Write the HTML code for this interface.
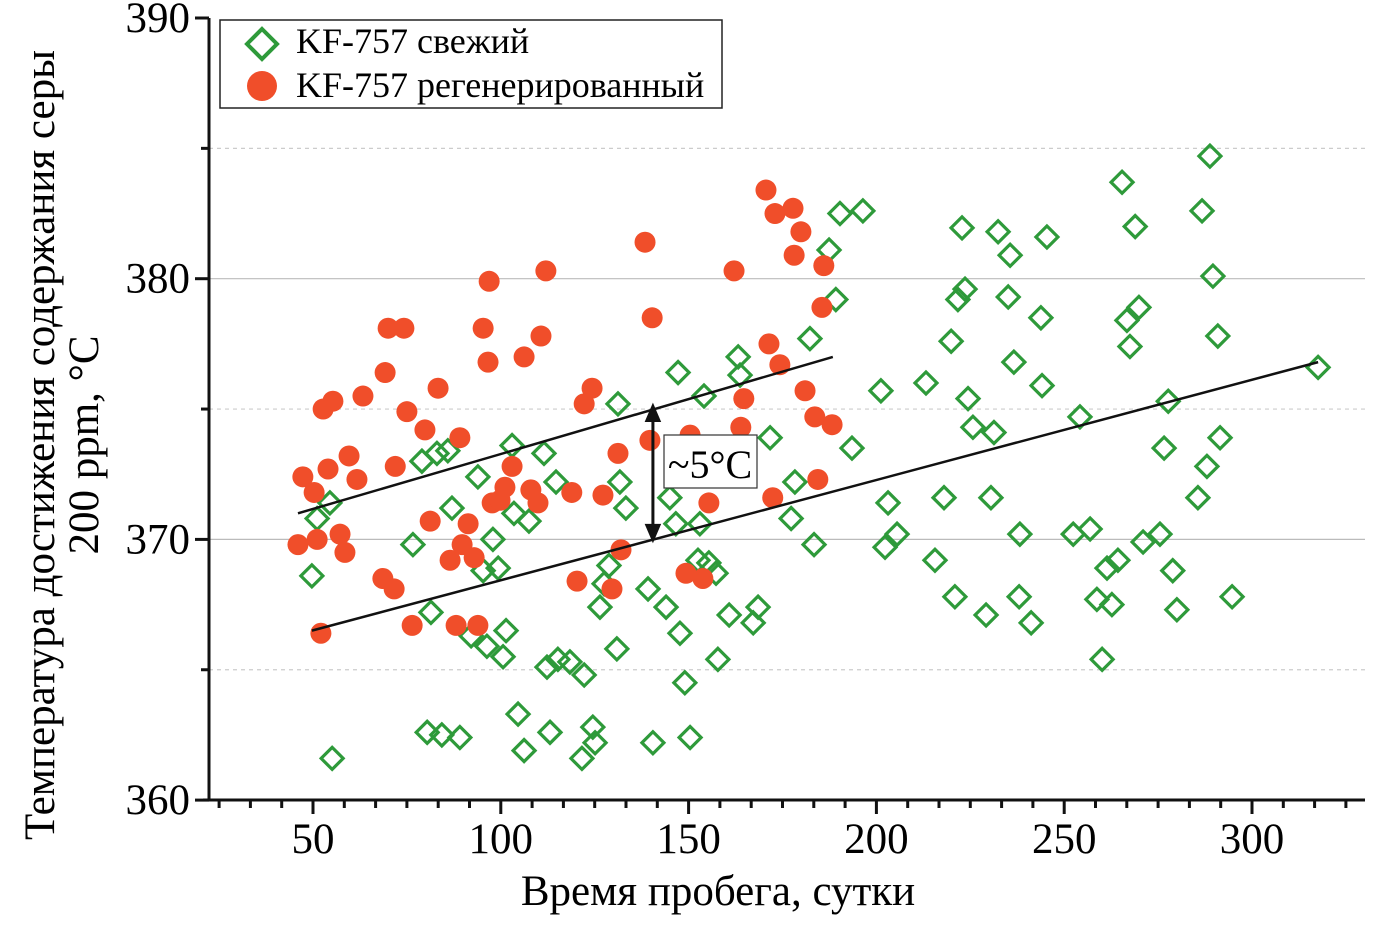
<!DOCTYPE html>
<html><head><meta charset="utf-8"><style>
html,body{margin:0;padding:0;background:#fff;}
svg{display:block;font-family:"Liberation Serif",serif;}
</style></head><body>
<svg id="chart" width="1399" height="930" viewBox="0 0 1399 930">
<g id="grid"></g>
<g id="marks"></g>
<g id="axes"></g>
<text x="718" y="905" font-size="43" text-anchor="middle">Время пробега, сутки</text>
<text transform="translate(54,445) rotate(-90)" font-size="43" text-anchor="middle">Температура достижения содержания серы</text>
<text transform="translate(98,445) rotate(-90)" font-size="43" text-anchor="middle">200 ppm, °C</text>
<g>
<rect x="220" y="20" width="502" height="88" fill="#fff" stroke="#222" stroke-width="1.5"/>
<g>
<path d="M262 29 L277 44 L262 59 L247 44 Z" fill="none" stroke="#2e9a3a" stroke-width="4"/>
<text x="296" y="53" font-size="36">KF-757 свежий</text></g>
<g>
<circle cx="262" cy="86" r="15" fill="#f04e2a"/>
<text x="296" y="97" font-size="36">KF-757 регенерированный</text></g>
</g>
</svg>
<script>
const xTicks=[50,100,150,200,250,300];
const yTicks=[360,370,380,390];
const freshX=[49.7,51.1,54.5,55.1,76.6,79.0,81.4,83.0,85.9,80.4,84.3,89.1,87.0,92.1,93.9,95.3,96.3,97.9,99.3,100.6,101.4,103.0,103.5,107.5,104.6,106.2,111.5,112.3,113.1,114.7,115.2,118.4,122.2,121.6,124.5,125.1,126.4,127.5,128.8,130.9,131.7,133.3,131.2,139.2,140.5,144.0,145.0,147.2,147.7,149.0,150.4,146.6,153.0,152.5,154.1,155.4,157.3,157.8,160.8,163.2,163.7,167.2,168.5,171.7,177.3,178.3,182.3,183.4,187.4,189.2,190.3,193.5,196.4,201.2,203.1,202.3,205.5,213.2,215.6,218.0,219.9,220.9,221.7,222.8,223.6,224.4,225.7,229.2,230.5,231.3,232.4,235.1,235.6,236.6,238.2,238.0,241.2,243.8,244.1,245.4,252.4,254.2,256.9,258.7,260.1,261.4,262.7,264.3,265.4,266.7,267.5,268.9,269.9,271.0,275.5,276.6,277.7,278.9,280.0,285.6,286.7,288.0,288.8,289.6,290.9,291.5,294.7,317.6];
const freshY=[368.6,370.8,371.4,361.6,369.8,373.0,367.2,373.3,373.4,362.6,362.5,362.4,371.2,366.3,372.4,368.8,365.9,370.0,368.9,365.5,366.5,373.6,371.0,370.7,363.3,361.9,373.3,365.1,362.6,372.2,365.4,365.3,364.8,361.6,362.8,362.2,367.4,368.3,369.0,365.8,372.2,371.2,375.2,368.1,362.2,367.4,371.6,376.4,366.4,364.5,362.4,370.6,370.6,369.2,375.5,369.1,368.7,365.4,367.1,377.0,376.3,366.8,367.4,373.9,370.8,372.2,377.7,369.8,381.1,379.2,382.5,373.5,382.6,375.7,371.4,369.7,370.2,376.0,369.2,371.6,377.6,367.8,379.2,381.95,379.6,375.4,374.3,367.1,371.6,374.1,381.8,379.3,380.9,376.8,370.2,367.8,366.8,378.5,375.9,381.6,370.2,374.7,370.4,367.7,365.4,368.9,367.5,369.2,383.7,378.4,377.4,382.0,378.9,369.9,370.2,373.5,375.3,368.8,367.3,371.6,382.6,372.8,384.7,380.1,377.8,373.9,367.8,376.6];
const regenX=[46.0,47.3,50.3,51.1,52.1,52.7,54.0,55.3,57.2,58.5,59.6,61.7,63.3,68.6,69.2,70.0,71.6,71.9,74.2,75.0,76.4,79.8,81.2,83.3,86.5,88.1,89.1,89.7,91.3,92.9,93.9,95.3,96.6,96.9,97.7,99.8,101.1,103.0,106.2,108.0,109.9,110.7,112.0,118.9,120.3,122.2,124.3,127.2,129.6,131.2,132.0,138.4,139.7,140.3,149.3,150.4,153.8,155.4,162.1,163.9,164.7,170.6,172.4,173.0,171.4,174.3,177.8,178.1,179.9,181.0,183.6,184.4,185.5,186.0,188.2];
const regenY=[369.8,372.4,371.8,370.0,366.4,375.0,372.7,375.3,370.2,369.5,373.2,372.3,375.5,368.5,376.4,378.1,368.1,372.8,378.1,374.9,366.7,374.2,370.7,375.8,369.2,366.7,373.9,369.8,370.6,369.3,366.7,378.1,376.8,379.9,371.4,371.5,372.0,372.8,377.0,371.9,371.4,377.8,380.3,371.8,368.4,375.2,375.8,371.7,368.1,373.3,369.6,381.4,373.8,378.5,368.7,374.0,368.5,371.4,380.3,374.3,375.4,383.4,371.6,382.5,377.5,376.7,382.7,380.9,381.8,375.7,374.7,372.3,378.9,380.5,374.4];
const upperLine=[[46.0,371.0],[188.4,377.0]];
const lowerLine=[[49.7,366.5],[317.6,376.8]];
const gapArrow=[140.5,375.1,370.0];

const X=v=>313+(v-50)*3.756;
const Y=v=>18+(390-v)*26.07;
const NS='http://www.w3.org/2000/svg';
function mk(parent,tag,attrs){const e=document.createElementNS(NS,tag);for(const k in attrs)e.setAttribute(k,attrs[k]);document.getElementById(parent).appendChild(e);return e;}

[385,375,365].forEach(v=>{const l=mk('grid','line',{x1:209,x2:1365,y1:Y(v),y2:Y(v),stroke:'#ccc','stroke-width':1.2,'stroke-dasharray':'4 4'});

});
[380,370].forEach(v=>{const l=mk('grid','line',{x1:209,x2:1365,y1:Y(v),y2:Y(v),stroke:'#bbb','stroke-width':1.2});

});

freshX.forEach((xv,i)=>{const cx=X(xv),cy=Y(freshY[i]);
const p=mk('marks','path',{d:`M${cx} ${cy-11}L${cx+11} ${cy}L${cx} ${cy+11}L${cx-11} ${cy}Z`,fill:'none',stroke:'#2e9a3a','stroke-width':3.2});

});
regenX.forEach((xv,i)=>{const c=mk('marks','circle',{cx:X(xv),cy:Y(regenY[i]),r:10.5,fill:'#f04e2a'});

});

[upperLine,lowerLine].forEach((ln,i)=>{const l=mk('marks','line',{x1:X(ln[0][0]),y1:Y(ln[0][1]),x2:X(ln[1][0]),y2:Y(ln[1][1]),stroke:'#111','stroke-width':2.5});

});
const ax=X(gapArrow[0]),ay1=Y(gapArrow[1]),ay2=Y(gapArrow[2]);
const ar=mk('marks','path',{d:`M${ax} ${ay1+12}L${ax} ${ay2-12}M${ax-6} ${ay1+14}L${ax} ${ay1}L${ax+6} ${ay1+14}ZM${ax-6} ${ay2-14}L${ax} ${ay2}L${ax+6} ${ay2-14}Z`,stroke:'#111','stroke-width':3,fill:'#111'});


const bx=mk('marks','rect',{x:664,y:435,width:93,height:53,fill:'#fff',stroke:'#333','stroke-width':1.2});


const bt=mk('marks','text',{x:710,y:478,'font-size':40,'text-anchor':'middle'});bt.textContent='~5°C';



const xa=mk('axes','line',{x1:203,x2:1365,y1:800,y2:800,stroke:'#111','stroke-width':3});


const ya=mk('axes','line',{x1:209,x2:209,y1:18,y2:801,stroke:'#111','stroke-width':3});


for(let k=0;k<=38;k++){const v=25+k*50/6;const px=X(v);if(px>1366)break;
const major=Math.abs(v/50-Math.round(v/50))<1e-6;
const t=mk('axes','line',{x1:px,x2:px,y1:800,y2:major?814:808,stroke:'#111','stroke-width':3});

}
xTicks.forEach(v=>{const t=mk('axes','text',{x:X(v),y:853,'font-size':43,'text-anchor':'middle'});t.textContent=v;

});
[360,365,370,375,380,385,390].forEach(v=>{const t=mk('axes','line',{x1:v%10===0?195:201,x2:209,y1:Y(v),y2:Y(v),stroke:'#111','stroke-width':3});

});
yTicks.forEach(v=>{const t=mk('axes','text',{x:190,y:Y(v)+14,'font-size':43,'text-anchor':'end'});t.textContent=v;

});
</script>
</body></html>
